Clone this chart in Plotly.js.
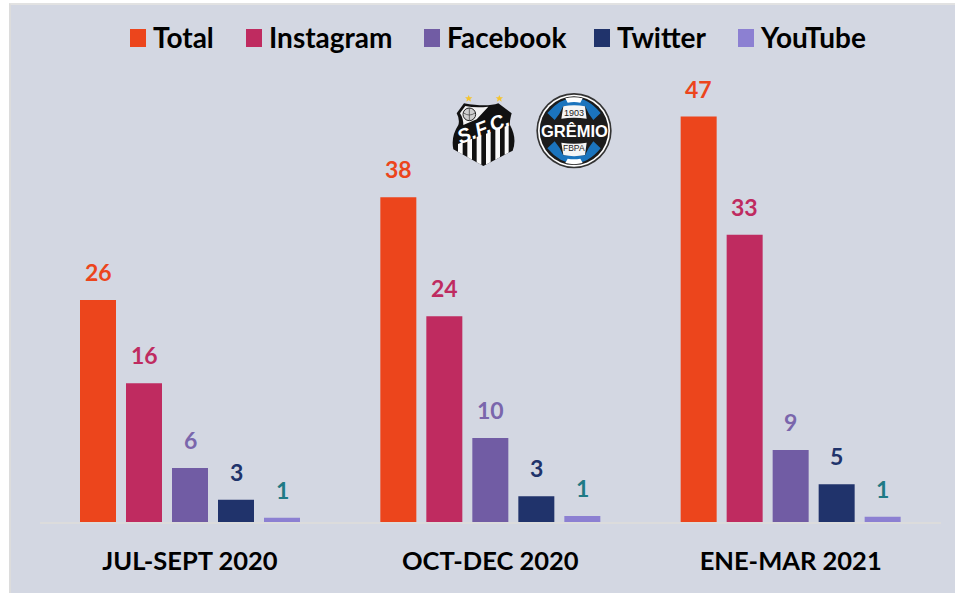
<!DOCTYPE html>
<html><head><meta charset="utf-8">
<script src="https://cdn.plot.ly/plotly-3.0.1.min.js"></script>
<style>
html,body{margin:0;padding:0;background:#fff;overflow:hidden}
#panel{position:absolute;left:9px;top:3px;width:946px;height:590px;background:#d3d7e2;border-left:2px solid #dcdcdc;border-top:2px solid #e2e2e2;box-sizing:border-box}
#chart{position:absolute;left:0;top:0;width:955px;height:593px}
</style></head><body>
<div id="panel"></div><div id="chart"></div>
<script>
const periods = ['JUL-SEPT 2020','OCT-DEC 2020','ENE-MAR 2021'];
const seriesNames = ['Total','Instagram','Facebook','Twitter','YouTube'];
const total = [25.9,37.9,47.3];
const instagram = [16.2,24,33.5];
const facebook = [6.3,9.8,8.4];
const twitter = [2.6,3,4.4];
const youtube = [0.5,0.7,0.6];
const totalLabels = ['26','38','47'];
const instagramLabels = ['16','24','33'];
const facebookLabels = ['6','10','9'];
const twitterLabels = ['3','3','5'];
const youtubeLabels = ['1','1','1'];
const barColors = ['#ec451c','#bf2b60','#715ca4','#20336b','#8c80d2'];
const labelColors = ['#ec451c','#bf2b60','#7a66ac','#20336b','#1f7a85'];
const legendSwatchX = [130,246,424,594,738];
const values = [total,instagram,facebook,twitter,youtube];
const labels = [totalLabels,instagramLabels,facebookLabels,twitterLabels,youtubeLabels];

const W=955,H=593,L=40,R=941,T=93,B=522;
const pxX=p=>(p-L)/(R-L), pxY=p=>(B-p)/(B-T);
const FONT='Lato, Carlito, sans-serif';
const unit=300.33, slot=46/unit, barW=36/unit;
const xPos=idx=>(idx-2)*slot;
const x0=-(190-L)/unit;

const traces=seriesNames.map((n,s)=>({
  type:'bar',name:n,x:periods.map((_,i)=>i+xPos(s)),y:values[s],width:barW,
  marker:{color:barColors[s],line:{width:0}},hoverinfo:'name+y'
}));

const annotations=[];
labels.forEach((arr,s)=>arr.forEach((t,i)=>annotations.push({
  xref:'x',yref:'y',x:i+xPos(s),y:values[s][i],text:'<b>'+t+'</b>',showarrow:false,
  yshift:28,yanchor:'middle',xanchor:'center',font:{family:FONT,size:23,color:labelColors[s]}
})));
const logoText=(t,px,py,size,color,angle,bold)=>annotations.push({xref:'paper',yref:'paper',x:pxX(px),y:pxY(py),
  text:bold?'<b>'+t+'</b>':t,showarrow:false,xanchor:'center',yanchor:'middle',textangle:angle||0,
  font:{family:'Liberation Sans, sans-serif',size,color},borderpad:0,borderwidth:0});
logoText('GRÊMIO',574,131,16.5,'#ffffff',0,true);
logoText('1903',574,113,9,'#222222');
logoText('FBPA',574,148,8.5,'#222222');
logoText('<i>S.F.C.</i>',483,128,20,'#ffffff',-21,true);

const shield='M80 100 L102 70 Q170 82 205 70 L245 100 Q238 125 240 135 Q262 175 248 212 L160 258 L70 208 Q62 170 85 135 Q90 118 80 100 Z';
const santos=`<svg xmlns='http://www.w3.org/2000/svg' viewBox='0 0 600 300'>
<defs><clipPath id='c'><path d='${shield}'/></clipPath></defs>
<polygon points='116,45 119,52 127,52 121,57 123,65 116,60 109,65 111,57 105,52 113,52' fill='#f4c430'/>
<polygon points='208,45 211,52 219,52 213,57 215,65 208,60 201,65 203,57 197,52 205,52' fill='#f4c430'/>
<path d='${shield}' fill='#111'/>
<path d='M90 100 L106 78 Q135 84 175 80 L140 118 L100 135 Q100 115 90 100 Z' fill='#f2f2f2'/>
<circle cx='118' cy='103' r='19' fill='#cfcfcf' stroke='#222' stroke-width='3'/>
<path d='M101 99 Q118 111 135 99 M118 84 V122' stroke='#333' stroke-width='2' fill='none'/>
<g clip-path='url(#c)' fill='#fafafa'>
<polygon points='84,192 98,186 98,228 84,220'/>
<polygon points='112,181 126,176 126,244 112,236'/>
<polygon points='140,171 154,166 154,258 140,250'/>
<polygon points='168,161 182,156 182,248 168,258'/>
<polygon points='196,150 210,145 210,234 196,242'/>
<polygon points='224,140 236,135 236,220 224,228'/>
</g></svg>`;
const gremioLobe=`<path d='M52 75 Q90 30 132 30 Q175 30 212 75 L190 96 Q175 78 165 54 L100 54 Q90 78 74 96 Z' fill='#1b74bd'/>
<path d='M106 31 Q132 24 158 31 L151 44 Q132 40 113 44 Z' fill='#fff'/>
<path d='M100 55 Q132 48 165 55 L170 92 Q132 86 94 92 Z' fill='#f5f5f5'/>`;
const gremio=`<svg xmlns='http://www.w3.org/2000/svg' viewBox='0 0 264 252'>
<circle cx='132' cy='128' r='113' fill='#333'/><circle cx='132' cy='128' r='108' fill='#fff'/><circle cx='132' cy='128' r='103' fill='#1c1c1c'/>
${gremioLobe}<g transform='translate(0,256) scale(1,-1)'>${gremioLobe}</g></svg>`;
const uri=s=>'data:image/svg+xml;charset=utf-8,'+encodeURIComponent(s);
const logo=(s,px0,py0,px1,py1)=>({source:uri(s),xref:'paper',yref:'paper',x:pxX(px0),y:pxY(py0),
  sizex:(px1-px0)/(R-L),sizey:(py1-py0)/(B-T),xanchor:'left',yanchor:'top',sizing:'stretch',layer:'above'});

Plotly.newPlot('chart',traces,{
  width:W,height:H,margin:{l:L,r:W-R,t:T,b:H-B,pad:0},
  paper_bgcolor:'rgba(0,0,0,0)',plot_bgcolor:'rgba(0,0,0,0)',
  barmode:'overlay',showlegend:true,
  legend:{orientation:'h',x:pxX(108),y:pxY(20),xanchor:'left',yanchor:'top',traceorder:'normal',
    font:{family:FONT,size:28,color:'#000',weight:700},itemwidth:30,bgcolor:'rgba(0,0,0,0)'},
  xaxis:{range:[x0,x0+(R-L)/unit],tickmode:'array',tickvals:[0,1,2],ticktext:periods.map(p=>'<b>'+p+'</b>'),
    tickfont:{family:FONT,size:25.5,color:'#000'},ticks:'outside',ticklen:15,tickcolor:'rgba(0,0,0,0)',
    showgrid:false,zeroline:false,showline:true,linecolor:'#dcdcdc',linewidth:2,fixedrange:true},
  yaxis:{range:[0,50.05],visible:false,fixedrange:true},
  annotations,images:[logo(santos,430,80,630,180),logo(gremio,530,88,618,172)],
  font:{family:FONT}
},{displayModeBar:false,responsive:false}).then(gd=>{
  // Legend swatches in the reference are tall rectangles close to their text
  const lg=gd.querySelector('g.legend'), m=lg.getScreenCTM();
  const sb=lg.querySelector('.scrollbox'); if(sb) sb.removeAttribute('clip-path');
  lg.removeAttribute('clip-path');
  lg.querySelectorAll('g.traces').forEach((g,i)=>{
    g.setAttribute('transform',`translate(${legendSwatchX[i]-m.e},${38-m.f})`);
    const p=g.querySelector('.legendpoints path');
    if(p){p.setAttribute('d','M8,9H-8V-9H8Z');p.setAttribute('transform','translate(8,0)');}
    const t=g.querySelector('text.legendtext');
    if(t){t.setAttribute('x',23);t.setAttribute('y',10);}
  });
});
</script></body></html>
